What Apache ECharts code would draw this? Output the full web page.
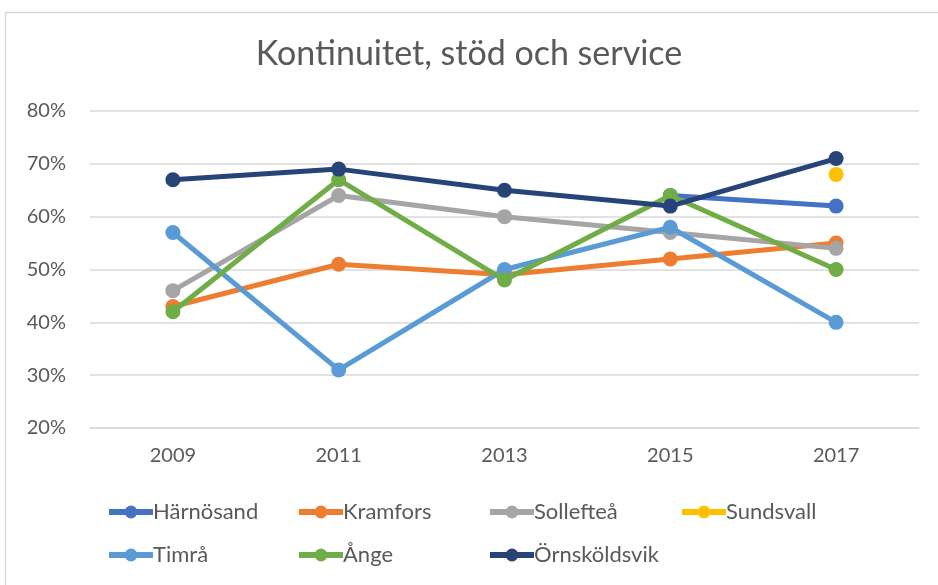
<!DOCTYPE html>
<html>
<head>
<meta charset="utf-8">
<script src="https://cdn.jsdelivr.net/npm/echarts@6/dist/echarts.min.js"></script>
<style>
  html, body { margin: 0; padding: 0; background: #fff; }
  #main { width: 938px; height: 585px; }
</style>
</head>
<body>
<div id="main"></div>
<script>
"use strict";

var years = ['2009', '2011', '2013', '2015', '2017'];
var harnosand = [null, null, null, 64, 62];
var kramfors = [43, 51, 49, 52, 55];
var solleftea = [46, 64, 60, 57, 54];
var sundsvall = [null, null, null, null, 68];
var timra = [57, 31, 50, 58, 40];
var ange = [42, 67, 48, 64, 50];
var ornskoldsvik = [67, 69, 65, 62, 71];

var names = ['Härnösand', 'Kramfors', 'Sollefteå', 'Sundsvall', 'Timrå', 'Ånge', 'Örnsköldsvik'];
var values = [harnosand, kramfors, solleftea, sundsvall, timra, ange, ornskoldsvik];
var colors = ['#4472C4', '#ED7D31', '#A5A5A5', '#FFC000', '#5B9BD5', '#70AD47', '#264478'];

var fontName = 'Lato, "Open Sans", sans-serif';
var textColor = '#595959';

var dom = document.getElementById("main");
var myChart = echarts.init(dom);

// legend positions (one legend per item, to keep the columns)
var legendPos = [
    [106, 501], [296, 501], [487, 501], [679, 501],
    [106, 544], [296, 544], [487, 544]
];

var legends = [];
var series = [];
for (var i = 0; i < names.length; i++) {
    legends.push({
        left: legendPos[i][0],
        top: legendPos[i][1],
        padding: 0,
        data: [names[i]],
        itemWidth: 44,
        itemHeight: 16,
        itemGap: 0,
        lineStyle: { width: 6 },
        textStyle: { fontFamily: fontName, fontSize: 22, color: textColor, padding: [0, 0, 0, -5] }
    });
    series.push({
        name: names[i],
        type: 'line',
        data: values[i],
        symbol: 'circle',
        symbolSize: 15,
        lineStyle: { width: 5, color: colors[i] },
        itemStyle: { color: colors[i] },
        connectNulls: false,
        z: 2 + i
    });
}

var option = {
    animation: false,
    color: colors,
    title: {
        text: 'Kontinuitet, stöd och service',
        left: 'center',
        top: 32,
        textStyle: { fontFamily: fontName, fontSize: 34, fontWeight: 'normal', color: textColor }
    },
    legend: legends,
    graphic: [{
        type: 'rect',
        shape: { x: 5.5, y: 12.5, width: 940, height: 600 },
        style: { fill: null, stroke: '#d9d9d9', lineWidth: 1.5 },
        silent: true
    }],
    grid: { left: 90, right: 19, top: 111, bottom: 157 },
    xAxis: {
        type: 'category',
        data: years,
        axisLine: { lineStyle: { color: '#d9d9d9', width: 1.5 } },
        axisTick: { show: false },
        axisLabel: { fontFamily: fontName, fontSize: 20, color: textColor, margin: 18 }
    },
    yAxis: {
        type: 'value',
        min: 20,
        max: 80,
        interval: 10,
        axisLine: { show: false },
        axisTick: { show: false },
        splitLine: { lineStyle: { color: '#d9d9d9', width: 1.5 } },
        axisLabel: { formatter: '{value}%', fontFamily: fontName, fontSize: 20, color: textColor, margin: 24 }
    },
    series: series
};

myChart.setOption(option);
</script>
</body>
</html>
